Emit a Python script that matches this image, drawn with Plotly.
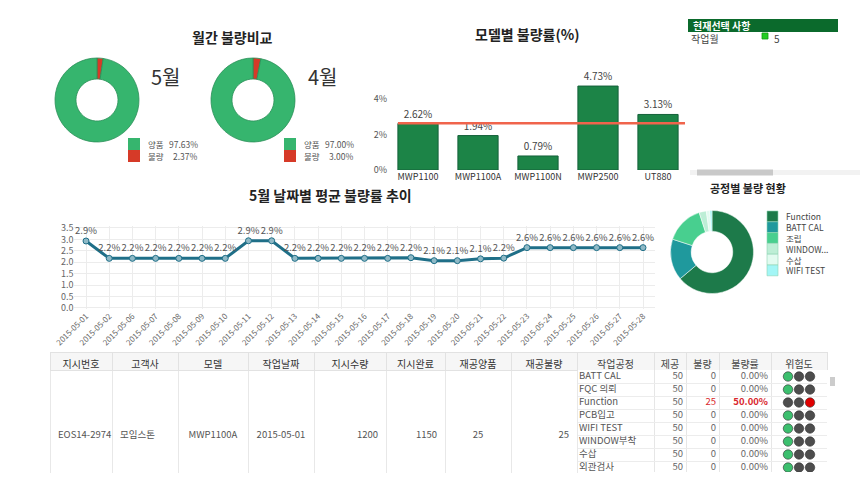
import plotly.graph_objects as go

W, H = 868, 489
def px(x): return x / W
def py(y): return 1 - y / H

FONT = "Noto Sans CJK KR, Noto Sans, sans-serif"

# ---------------- data ----------------
MONTHS = ['5월', '4월']
MONTH_GOOD = [97.63, 97.00]
MONTH_BAD = [2.37, 3.00]

MODELS = ['MWP1100', 'MWP1100A', 'MWP1100N', 'MWP2500', 'UT880']
MODEL_RATE = [2.62, 1.94, 0.79, 4.73, 3.13]
MODEL_AVG = 2.64

DATES = ['2015-05-01', '2015-05-02', '2015-05-06', '2015-05-07', '2015-05-08',
         '2015-05-09', '2015-05-10', '2015-05-11', '2015-05-12', '2015-05-13',
         '2015-05-14', '2015-05-15', '2015-05-16', '2015-05-17', '2015-05-18',
         '2015-05-19', '2015-05-20', '2015-05-21', '2015-05-22', '2015-05-23',
         '2015-05-24', '2015-05-25', '2015-05-26', '2015-05-27', '2015-05-28']
DAILY_RATE = [2.93, 2.17, 2.17, 2.17, 2.17, 2.17, 2.17, 2.94, 2.94, 2.17,
              2.17, 2.17, 2.17, 2.17, 2.20, 2.07, 2.07, 2.15, 2.18, 2.64,
              2.64, 2.64, 2.64, 2.64, 2.64]

PROCESSES = ['Function', 'BATT CAL', '조립', 'WINDOW...', '수삽', 'WIFI TEST']
PROCESS_SHARE = [63.9, 16.1, 15.0, 2.8, 1.4, 0.8]
PROCESS_COLORS = ['#1d7a4a', '#1f999d', '#48cf8f', '#bdeed6', '#e2fbf0', '#a3f6f6']

ORDER_HEADERS = ['지시번호', '고객사', '모델', '작업날짜', '지시수량', '지시완료', '재공양품', '재공불량']
ORDER_VALUES = ['EOS14-2974', '모임스톤', 'MWP1100A', '2015-05-01', '1200', '1150', '25', '25']

STEP_HEADERS = ['작업공정', '제공', '불량', '불량률', '위험도']
STEPS = ['BATT CAL', 'FQC 의뢰', 'Function', 'PCB입고', 'WIFI TEST', 'WINDOW부착', '수삽', '외관검사']
STEP_INPUT = [50, 50, 50, 50, 50, 50, 50, 50]
STEP_BAD = [0, 0, 25, 0, 0, 0, 0, 0]

GOOD_C = '#36b56e'
BAD_C = '#d63a28'

# layout constants for the process sub-table (pixel units inside its own axes)
ROW_H = 13
STEP_COL_W = [77, 32, 33, 52, 56]

fig = go.Figure()

# ---------------- monthly donuts ----------------
donut_x = [(55, 139), (211, 295)]
for i in range(2):
    x0, x1 = donut_x[i]
    fig.add_trace(go.Pie(
        labels=['불량', '양품'], values=[MONTH_BAD[i], MONTH_GOOD[i]],
        hole=0.5, sort=False, direction='clockwise', textinfo='none',
        marker=dict(colors=[BAD_C, GOOD_C], line=dict(color='#2b8f58', width=0.8)),
        domain=dict(x=[px(x0), px(x1)], y=[py(142), py(58)]),
        showlegend=False, hoverinfo='label+percent'))

# ---------------- model bar chart ----------------
fig.add_trace(go.Bar(
    x=MODELS, y=MODEL_RATE, xaxis='x', yaxis='y',
    marker=dict(color='#1c8447', line=dict(color='#14613a', width=1)),
    texttemplate='%{y:.2f}%', textposition='outside',
    textfont=dict(size=10, color='#444'), cliponaxis=False,
    showlegend=False, width=0.67))

# ---------------- daily line chart ----------------
fig.add_trace(go.Scatter(
    x=DATES, y=DAILY_RATE, xaxis='x2', yaxis='y2', mode='lines+markers+text',
    line=dict(color='#1f6f88', width=3),
    marker=dict(size=6, color='#8fb9c6', line=dict(color='#1f6f88', width=1)),
    texttemplate='%{y:.1f}%', textposition='top center',
    textfont=dict(size=9.5, color='#555'), cliponaxis=False, showlegend=False))

# ---------------- process donut ----------------
fig.add_trace(go.Pie(
    labels=PROCESSES, values=PROCESS_SHARE, hole=0.5, sort=False,
    direction='clockwise', textinfo='none',
    marker=dict(colors=PROCESS_COLORS, line=dict(color='#ffffff', width=0.5)),
    domain=dict(x=[px(670.5), px(753.5)], y=[py(293.5), py(210.5)]),
    showlegend=False))

# ---------------- order table (left, merged rows) ----------------
order_widths = [62, 66, 70, 66, 72, 59, 66, 66]
order_align = ['left', 'left', 'center', 'center', 'right', 'right', 'center', 'right']
pad = '\u00a0<br>' * 4
fig.add_trace(go.Table(
    domain=dict(x=[px(50), px(577)], y=[py(474), py(352)]),
    columnwidth=order_widths,
    header=dict(values=ORDER_HEADERS, height=18, align='center',
                fill=dict(color='#f6f6f6'), line=dict(color='#e2e2e2', width=1),
                font=dict(family=FONT, size=10, color='#333')),
    cells=dict(values=[[pad + v] for v in ORDER_VALUES], height=130,
               align=order_align, fill=dict(color='white'),
               line=dict(color='#e8e8e8', width=1),
               font=dict(family=FONT, size=9.5, color='#555'))))

# ---------------- process sub-table (header as table, body on axes) ----------------
fig.add_trace(go.Table(
    domain=dict(x=[px(577), px(827)], y=[py(370), py(352)]),
    columnwidth=STEP_COL_W,
    header=dict(values=STEP_HEADERS, height=18, align='center',
                fill=dict(color='#f6f6f6'), line=dict(color='#e2e2e2', width=1),
                font=dict(family=FONT, size=10, color='#444')),
    cells=dict(values=[[] for _ in STEP_HEADERS])))

edges = [0]
for w in STEP_COL_W:
    edges.append(edges[-1] + w)
rates = [b / n * 100 for b, n in zip(STEP_BAD, STEP_INPUT)]
row_y = [ROW_H * i + ROW_H / 2 for i in range(len(STEPS))]
hot = [r > 10 for r in rates]
val_col = ['#d9262c' if h else '#666' for h in hot]

fig.add_trace(go.Scatter(
    x=[edges[0] + 2] * len(STEPS), y=row_y, text=STEPS, mode='text',
    textposition='middle right', textfont=dict(family=FONT, size=9.5, color='#555'),
    xaxis='x3', yaxis='y3', showlegend=False, hoverinfo='skip'))
fig.add_trace(go.Scatter(
    x=[edges[2] - 3] * len(STEPS), y=row_y, text=[str(v) for v in STEP_INPUT], mode='text',
    textposition='middle left', textfont=dict(family=FONT, size=9.5, color='#666'),
    xaxis='x3', yaxis='y3', showlegend=False, hoverinfo='skip'))
fig.add_trace(go.Scatter(
    x=[edges[3] - 3] * len(STEPS), y=row_y, text=[str(v) for v in STEP_BAD], mode='text',
    textposition='middle left', textfont=dict(family=FONT, size=9.5, color=val_col),
    xaxis='x3', yaxis='y3', showlegend=False, hoverinfo='skip'))
fig.add_trace(go.Scatter(
    x=[edges[4] - 3] * len(STEPS), y=row_y,
    text=[('<b>%.2f%%</b>' % r) if h else ('%.2f%%' % r) for r, h in zip(rates, hot)],
    mode='text', textposition='middle left',
    textfont=dict(family=FONT, size=9.5, color=val_col),
    xaxis='x3', yaxis='y3', showlegend=False, hoverinfo='skip'))

lx, ly, lc = [], [], []
light_x = [edges[4] + 17, edges[4] + 28, edges[4] + 39]
for i, h in enumerate(hot):
    lit = 2 if h else 0
    for k in range(3):
        lx.append(light_x[k])
        ly.append(row_y[i])
        lc.append(('#e00000' if h else '#3cbf6e') if k == lit else '#4d4d4d')
fig.add_trace(go.Scatter(
    x=lx, y=ly, xaxis='x3', yaxis='y3', mode='markers',
    marker=dict(size=9.5, color=lc, line=dict(color='#2e2e2e', width=0.6)),
    showlegend=False, hoverinfo='skip'))

# ---------------- annotations & shapes ----------------
ann = []
shapes = []
def text(x, y, s, size=10, color='#333', xanchor='center', bold=False):
    ann.append(dict(x=px(x), y=py(y), xref='paper', yref='paper', text=('<b>%s</b>' % s) if bold else s,
                    showarrow=False, xanchor=xanchor, yanchor='middle',
                    font=dict(family=FONT, size=size, color=color)))
def rect(x0, y0, x1, y1, fill, line='rgba(0,0,0,0)', lw=0):
    shapes.append(dict(type='rect', xref='paper', yref='paper', x0=px(x0), x1=px(x1),
                       y0=py(y1), y1=py(y0), fillcolor=fill, line=dict(color=line, width=lw), layer='above'))

text(233, 37, '월간 불량비교', 14, '#222', bold=True)
text(527, 34, '모델별 불량률(%)', 14, '#222', bold=True)
text(330, 195, '5월 날짜별 평균 불량률 추이', 14, '#222', bold=True)
text(748, 188, '공정별 불량 현황', 11, '#222', bold=True)

month_label_x = [166, 323]
leg_x = [128, 284]
for i in range(2):
    text(month_label_x[i], 76, MONTHS[i], 20, '#333')
    lx0 = leg_x[i]
    rect(lx0, 138, lx0 + 12, 150, GOOD_C)
    rect(lx0, 150, lx0 + 12, 162, BAD_C)
    text(lx0 + 18, 144, '양품', 8.5, '#555', 'left')
    text(lx0 + 18, 156, '불량', 8.5, '#555', 'left')
    text(lx0 + 72, 144, '%.2f%%' % MONTH_GOOD[i], 8.5, '#555', 'right')
    text(lx0 + 72, 156, '%.2f%%' % MONTH_BAD[i], 8.5, '#555', 'right')

# process legend
for i, (name, col) in enumerate(zip(PROCESSES, PROCESS_COLORS)):
    y0 = 211 + i * 10.8
    rect(767, y0, 778, y0 + 10.8, col, '#8fd3b3', 0.6)
    text(784, y0 + 5.4, name, 8.5, '#444', 'left')

# bar average line
shapes.append(dict(type='line', xref='x', yref='y', x0=-0.335, x1=4.45, y0=MODEL_AVG, y1=MODEL_AVG,
                   line=dict(color='#f0644c', width=2.5), layer='above'))

# current-selection panel
rect(688, 19, 838, 32, '#0b6a2c')
text(691, 25.5, '현재선택 사항', 10, 'white', 'left', bold=True)
text(689, 38, '작업월', 10, '#444', 'left')
rect(762, 33, 768, 39, '#22cc22', '#119911', 0.8)
text(772, 38.5, '5', 10, '#444', 'left')

# scrollbars
rect(690, 170, 860, 175, '#f2f2f2')
rect(697, 169.5, 773, 175.5, '#c9c9c9')
rect(830, 377, 835, 386, '#cccccc')

body_h = 102
fig.update_layout(
    width=W, height=H, margin=dict(l=0, r=0, t=0, b=0, autoexpand=False),
    paper_bgcolor='white', plot_bgcolor='rgba(0,0,0,0)',
    font=dict(family=FONT, color='#444'),
    annotations=ann, shapes=shapes,
    bargap=0.33, showlegend=False,
    xaxis=dict(domain=[px(388), px(688)], range=[-0.5, 4.5], type='category', anchor='y',
               showgrid=False, showline=False, ticks='', automargin=False,
               tickfont=dict(size=9, color='#333', family=FONT)),
    yaxis=dict(domain=[py(170), py(72.4)], range=[0, 5.5], anchor='x',
               tickvals=[0, 2, 4], ticktext=['0%', '2%', '4%'], automargin=False,
               showgrid=False, zeroline=False, showline=False,
               tickfont=dict(size=9, color='#555')),
    xaxis2=dict(domain=[px(74.4), px(654.6)], range=[-0.5, 24.5], type='category', anchor='y2',
                showgrid=True, gridcolor='#ececec', showline=False, ticks='', automargin=False,
                tickangle=-45, tickfont=dict(size=8, color='#666')),
    yaxis2=dict(domain=[py(309.1), py(225.7)], range=[-0.05, 3.6], dtick=0.5, tickformat='.1f',
                anchor='x2', automargin=False,
                showgrid=True, gridcolor='#ececec', zeroline=False, showline=False,
                tickfont=dict(size=9, color='#666')),
    xaxis3=dict(domain=[px(577), px(827)], range=[0, edges[-1]], anchor='y3',
                tickvals=edges, showgrid=True, gridcolor='#e6e6e6', gridwidth=1,
                showticklabels=False, ticks='', zeroline=False, showline=False,
                fixedrange=True, automargin=False),
    yaxis3=dict(domain=[py(370 + body_h), py(370)], range=[body_h, 0], anchor='x3',
                tickvals=[ROW_H * (i + 1) for i in range(len(STEPS))],
                showgrid=True, gridcolor='#ececec', gridwidth=1,
                showticklabels=False, ticks='', zeroline=False, showline=False,
                fixedrange=True, automargin=False),
)

fig.write_html('out.html', config={'displayModeBar': False},
               post_script="document.body.style.margin='0px';")
